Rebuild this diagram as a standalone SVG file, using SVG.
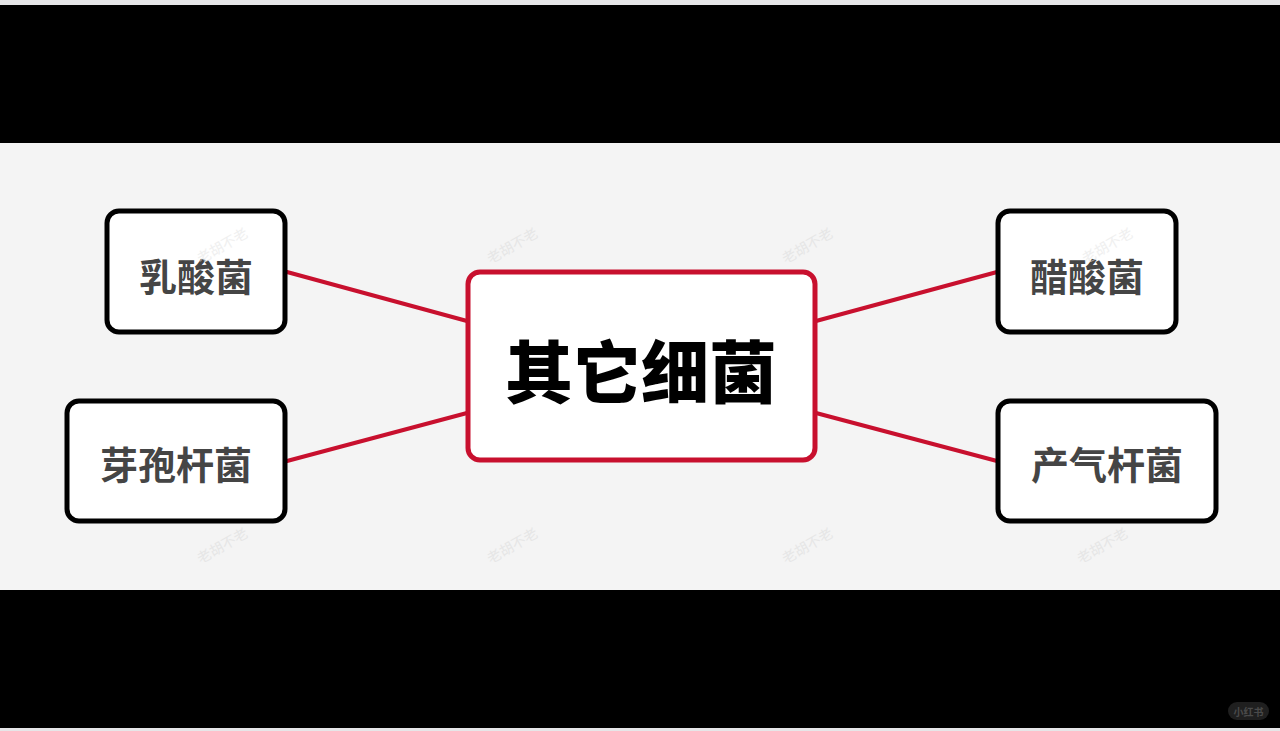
<svg xmlns="http://www.w3.org/2000/svg" width="1280" height="731" viewBox="0 0 1280 731">
<style>
.band{fill:#000}
.child rect{fill:#fff;stroke:#000;stroke-width:5}
.child text{font-family:"Noto Sans CJK SC","Noto Sans",sans-serif;font-weight:700;font-size:38px;fill:#454545;text-anchor:middle;dominant-baseline:central}
.center rect{fill:#fff;stroke:#c8102e;stroke-width:5}
.center text{font-family:"Noto Sans CJK SC","Noto Sans",sans-serif;font-weight:900;font-size:68px;fill:#000;text-anchor:middle;dominant-baseline:central}
.conn line{stroke:#c8102e;stroke-width:4;stroke-linecap:round}
.wm{font-family:"Noto Sans CJK SC",serif;font-size:14px;fill:#e6e6e6;text-anchor:middle}
.logo text{font-family:"Noto Sans CJK SC",sans-serif;font-size:10px;font-weight:700;fill:#4a4a4a;text-anchor:middle;dominant-baseline:central}
</style>
<rect x="0" y="0" width="1280" height="731" fill="#e6e6e8"/>
<rect x="0" y="143" width="1280" height="447" fill="#f4f4f4"/>
<rect class="band" x="0" y="5" width="1280" height="138"/>
<rect class="band" x="0" y="590" width="1280" height="138"/>
<g id="watermarks">
<text class="wm" transform="translate(515,250) rotate(-30)">老胡不老</text>
<text class="wm" transform="translate(810,250) rotate(-30)">老胡不老</text>
<text class="wm" transform="translate(225,550) rotate(-30)">老胡不老</text>
<text class="wm" transform="translate(515,550) rotate(-30)">老胡不老</text>
<text class="wm" transform="translate(810,550) rotate(-30)">老胡不老</text>
<text class="wm" transform="translate(1105,550) rotate(-30)">老胡不老</text>
</g>
<g id="connectors" class="conn">
<line x1="287" y1="272" x2="467" y2="321"/>
<line x1="287" y1="461" x2="467" y2="413"/>
<line x1="816" y1="321" x2="997" y2="272"/>
<line x1="816" y1="413" x2="997" y2="461"/>
</g>
<g id="n-center" class="center">
<rect x="468" y="272" width="347" height="188" rx="12"/>
<text x="641" y="368">其它细菌</text>
</g>
<g id="n-rusuanjun" class="child">
<rect x="107" y="211" width="178" height="121" rx="12"/>
<text x="196" y="274">乳酸菌</text>
</g>
<g id="n-yabaoganjun" class="child">
<rect x="67" y="401" width="218" height="120" rx="12"/>
<text x="176" y="462">芽孢杆菌</text>
</g>
<g id="n-cusuanjun" class="child">
<rect x="998" y="211" width="178" height="121" rx="12"/>
<text x="1087" y="274">醋酸菌</text>
</g>
<g id="n-chanqiganjun" class="child">
<rect x="998" y="401" width="218" height="120" rx="12"/>
<text x="1107" y="462">产气杆菌</text>
</g>
<g class="wmtop">
<text class="wm" transform="translate(225,250) rotate(-30)" opacity="0.6">老胡不老</text>
<text class="wm" transform="translate(1110,250) rotate(-30)" opacity="0.6">老胡不老</text>
</g>
<g id="logo" class="logo">
<rect x="1228" y="702" width="41" height="18" rx="9" fill="#1f1f1f"/>
<text x="1248.5" y="711">小红书</text>
</g>
</svg>
